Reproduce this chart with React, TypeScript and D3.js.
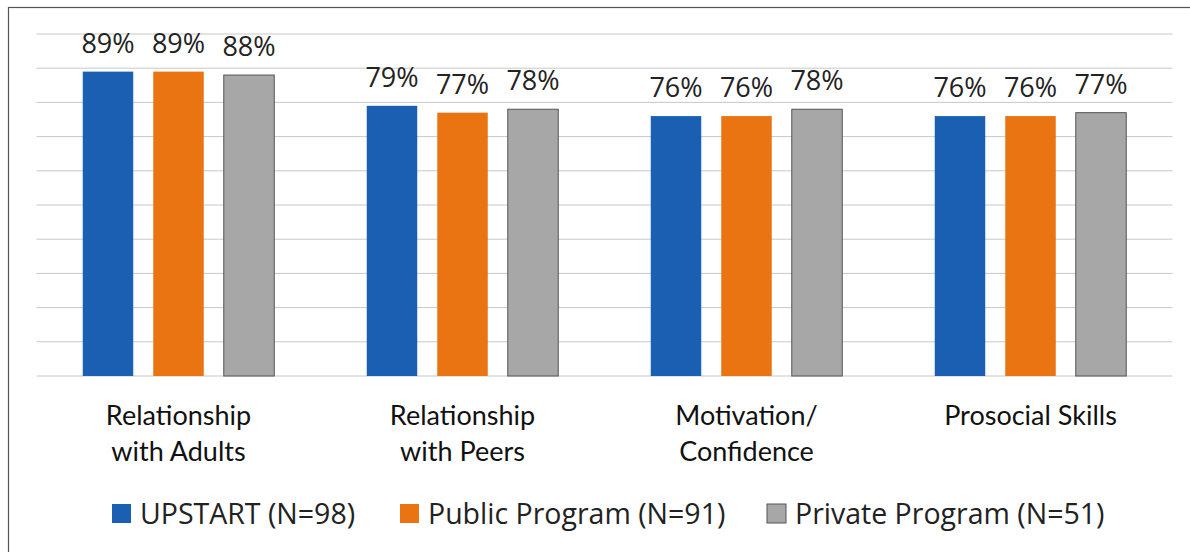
import React from 'react';
import * as d3 from 'd3';

const categories = [
  ['Relationship', 'with Adults'],
  ['Relationship', 'with Peers'],
  ['Motivation/', 'Confidence'],
  ['Prosocial Skills'],
];
const seriesNames = ['UPSTART (N=98)', 'Public Program (N=91)', 'Private Program (N=51)'];
const upstart = [89, 79, 76, 76];
const publicProgram = [89, 77, 76, 76];
const privateProgram = [88, 78, 78, 77];
const gridTicks = [0, 10, 20, 30, 40, 50, 60, 70, 80, 90, 100];

const colors = ['#1b5fb3', '#ea7312', '#a7a7a7'];
const strokes = ['none', 'none', '#555'];

const W = 1190;
const H = 552;
const left = 36.5;
const right = 1172.5;
const top = 34;
const bottom = 376;

const App = () => {
  const series = [upstart, publicProgram, privateProgram];
  const x0 = d3
    .scaleBand<number>()
    .domain(categories.map((_, i) => i))
    .range([left, right]);
  const x1 = d3
    .scaleBand<number>()
    .domain([0, 1, 2])
    .range([0, x0.bandwidth()])
    .paddingInner(0.284)
    .paddingOuter(0.656);
  const y = d3.scaleLinear().domain([0, 100]).range([bottom, top]);

  // legend marker left edges
  const legendX = [112, 400, 767];

  return (
    <svg
      width={W}
      height={H}
      style={{ position: 'absolute', left: 0, top: 0, background: '#fff' }}
    >
      <rect x={8.5} y={7.5} width={W} height={H} fill="#fff" stroke="#555" strokeWidth={1.2} />
      {gridTicks.map((t) => (
        <line key={t} x1={left} x2={right} y1={y(t)} y2={y(t)} stroke="#c8c8c8" strokeWidth={1} />
      ))}
      {categories.map((cat, ci) => (
        <g key={ci} transform={`translate(${x0(ci)},0)`}>
          {series.map((vals, si) => (
            <g key={si}>
              <rect
                x={x1(si)}
                y={y(vals[ci])}
                width={x1.bandwidth()}
                height={bottom - y(vals[ci])}
                fill={colors[si]}
                stroke={strokes[si]}
                strokeWidth={1}
              />
              <text
                x={(x1(si) as number) + x1.bandwidth() / 2}
                y={y(vals[ci]) - 19}
                textAnchor="middle"
                fontFamily="Open Sans"
                fontSize={27}
                fill="#222"
              >
                {vals[ci]}%
              </text>
            </g>
          ))}
          {cat.map((line, li) => (
            <text
              key={li}
              x={x0.bandwidth() / 2}
              y={425 + li * 36}
              textAnchor="middle"
              fontFamily="Lato"
              fontSize={27}
              fill="#111"
            >
              {line}
            </text>
          ))}
        </g>
      ))}
      {seriesNames.map((name, si) => (
        <g key={name} transform={`translate(${legendX[si]},0)`}>
          <rect x={0} y={504} width={19} height={19} fill={colors[si]} stroke={strokes[si]} />
          <text x={28} y={524} fontFamily="Open Sans" fontSize={28.5} fill="#222">
            {name}
          </text>
        </g>
      ))}
    </svg>
  );
};

export default App;
